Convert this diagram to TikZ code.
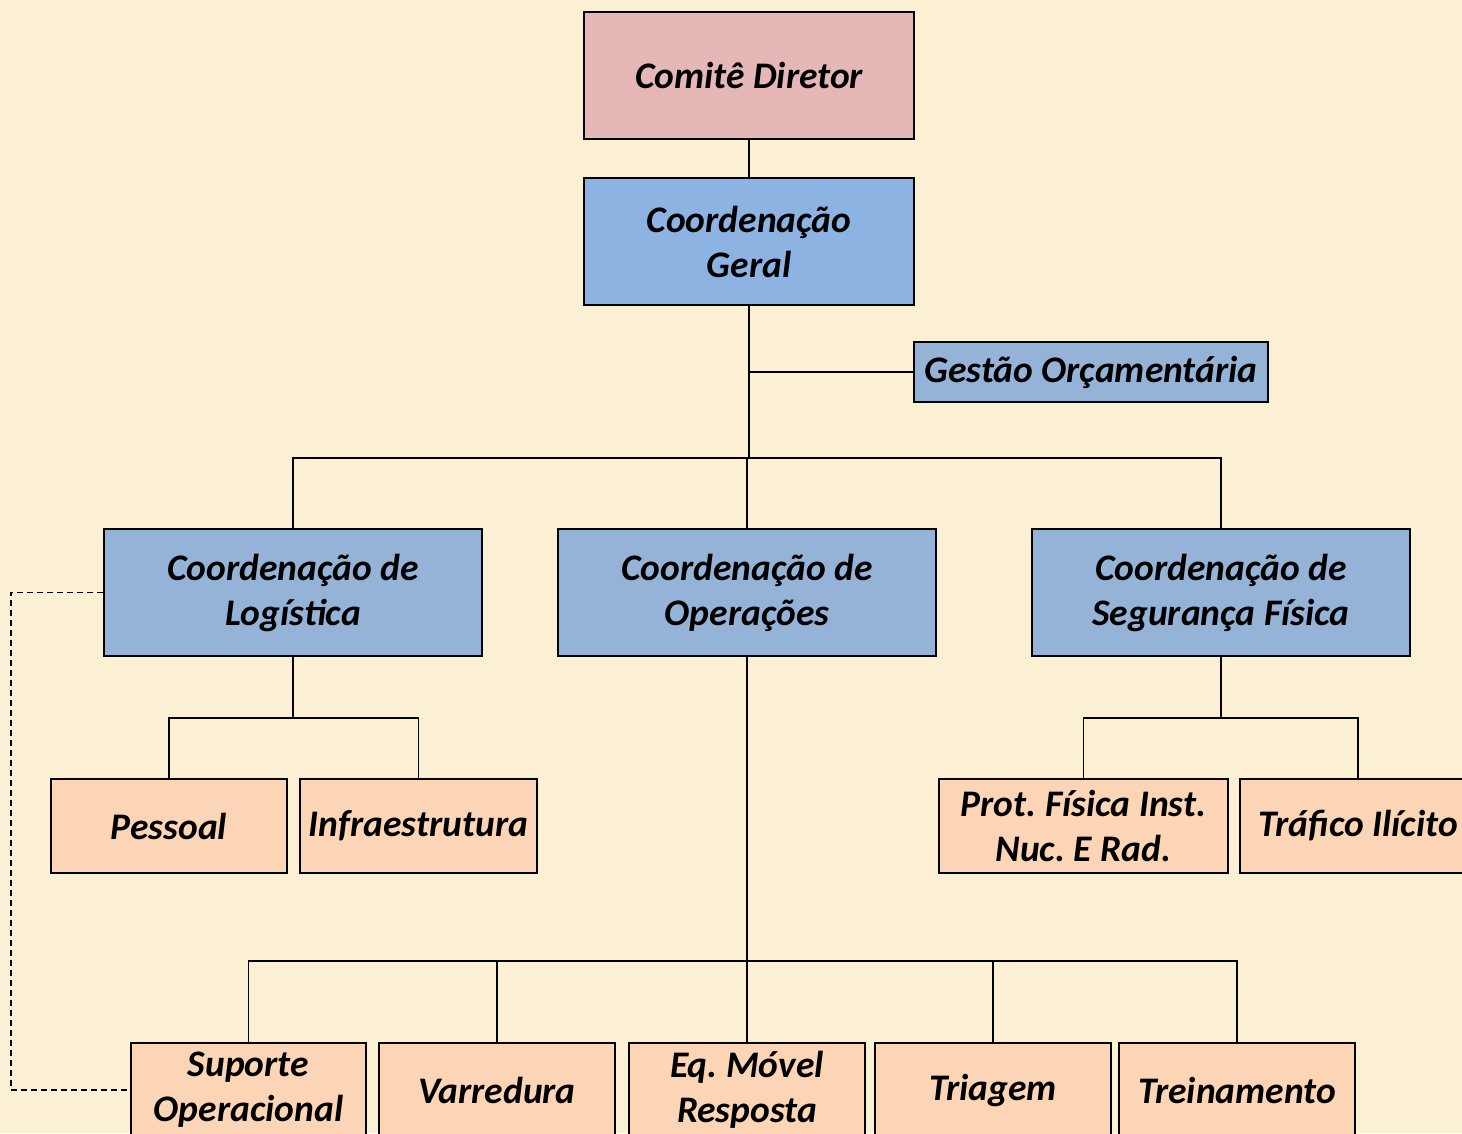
\documentclass[tikz,border=0pt]{standalone}
\usepackage{fontspec}
\setmainfont{Carlito}
\frenchspacing
\definecolor{bgc}{HTML}{FCF0D4}
\definecolor{pinkc}{HTML}{E5B8B7}
\definecolor{bluegc}{HTML}{8DB3E2}
\definecolor{bluec}{HTML}{95B3D7}
\definecolor{peachc}{HTML}{FBD5B5}
\begin{document}
\begin{tikzpicture}[x=1pt,y=-1pt,
  box/.style={draw=black, line width=1.3pt, align=center, inner sep=0pt,
    font=\bfseries\itshape\fontsize{37.5}{45}\selectfont},
  conn/.style={draw=black, line width=1.3pt},
  dconn/.style={draw=black, line width=1.3pt, dashed, dash pattern=on 6pt off 4pt}]
\useasboundingbox (0,0) rectangle (1462,1133);
\clip (0,0) rectangle (1462,1133);
\fill[bgc] (0,0) rectangle (1462,1133);
% top
\node[box, fill=pinkc, minimum width=330pt, minimum height=127pt] (cd) at (749,75.5) {Comitê Diretor};
\node[box, fill=bluegc, minimum width=330pt, minimum height=127pt] (cg) at (749,241.5) {Coordenação\\Geral};
\node[box, fill=bluec, minimum width=354pt, minimum height=60pt] (go) at (1091,372) {Gestão Orçamentária};
% level 2
\node[box, fill=bluec, minimum width=378pt, minimum height=127pt] (cl) at (293,592.5) {Coordenação de\\Logística};
\node[box, fill=bluec, minimum width=378pt, minimum height=127pt] (co) at (747,592.5) {Coordenação de\\Operações};
\node[box, fill=bluec, minimum width=378pt, minimum height=127pt] (cs) at (1221,592.5) {Coordenação de\\Segurança Física};
% level 3
\node[box, fill=peachc, minimum width=236pt, minimum height=94pt] (pe) at (169,826) {Pessoal};
\node[box, fill=peachc, minimum width=237pt, minimum height=94pt] (in) at (418.5,826) {Infraestrutura};
\node[box, fill=peachc, minimum width=289pt, minimum height=94pt] (pf) at (1083.5,826) {Prot. Física Inst.\\Nuc. E Rad.};
\node[box, fill=peachc, minimum width=236pt, minimum height=94pt] (tr) at (1358,826) {Tráfico Ilícito};
% bottom
\node[box, fill=peachc, minimum width=235pt, minimum height=94pt] (su) at (248.5,1090) {Suporte\\Operacional};
\node[box, fill=peachc, minimum width=236pt, minimum height=94pt] (va) at (497,1090) {Varredura};
\node[box, fill=peachc, minimum width=236pt, minimum height=94pt] (eq) at (747,1090) {Eq. Móvel\\Resposta};
\node[box, fill=peachc, minimum width=236pt, minimum height=94pt] (ti) at (993,1090) {Triagem};
\node[box, fill=peachc, minimum width=236pt, minimum height=94pt] (tn) at (1237,1090) {Treinamento};
% connectors
\coordinate (j1) at (749,372);
\coordinate (b1) at (749,458);
\coordinate (b2) at (293,718);
\coordinate (b3) at (1221,718);
\coordinate (b4) at (747,961);
\coordinate (dl) at (11,592.5);
\draw[conn] (cd) -- (cg);
\draw[conn] (cg.south) -- (b1);
\draw[conn] (j1) -- (go.west);
\draw[conn] (cl.north) |- (b1) -| (cs.north);
\draw[conn] (co.north) -- (co.north |- b1);
\draw[conn] (cl.south) -- (b2);
\draw[conn] (pe.north) |- (b2) -| (in.north);
\draw[conn] (cs.south) -- (b3);
\draw[conn] (pf.north) |- (b3) -| (tr.north);
\draw[conn] (co.south) -- (eq.north);
\draw[conn] (su.north) |- (b4) -| (tn.north);
\draw[conn] (va.north) -- (va.north |- b4);
\draw[conn] (ti.north) -- (ti.north |- b4);
\draw[dconn] (cl.west) -- (dl) |- (su.west);
\end{tikzpicture}
\end{document}
